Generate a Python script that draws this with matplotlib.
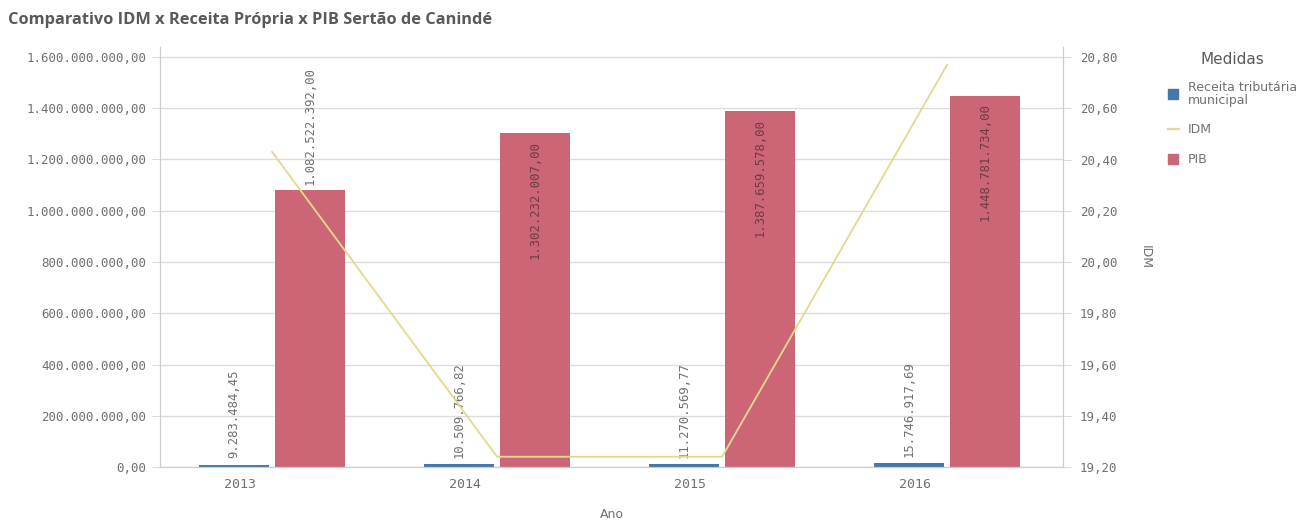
import matplotlib
matplotlib.use("Agg")
import matplotlib.pyplot as plt
from matplotlib.patches import Rectangle
from matplotlib.lines import Line2D
import numpy as np

anos = ["2013", "2014", "2015", "2016"]
receita = [9283484.45, 10509766.82, 11270569.77, 15746917.69]
pib = [1082522392.00, 1302232007.00, 1387659578.00, 1448781734.00]
idm = [20.43, 19.24, 19.24, 20.77]
left_ticks = [0, 200e6, 400e6, 600e6, 800e6, 1000e6, 1200e6, 1400e6, 1600e6]
right_ticks = [19.2, 19.4, 19.6, 19.8, 20.0, 20.2, 20.4, 20.6, 20.8]


def br(v, dec=2):
    s = f"{v:,.{dec}f}"
    return s.replace(",", "X").replace(".", ",").replace("X", ".")


BLUE = "#4477aa"
RED = "#cc6677"
YEL = "#e3d98c"
GRID = "#dcdcdc"
TXT = "#707070"
MONO = "DejaVu Sans Mono"

fig = plt.figure(figsize=(13.16, 5.25), dpi=100)
ax = fig.add_axes([160 / 1316, 58 / 525, (1063 - 160) / 1316, (467 - 47) / 525])
x = np.arange(len(anos))
w = 0.31
off = 0.169

ax.bar(x - off, receita, width=w, color=BLUE, zorder=2)
ax.bar(x + off, pib, width=w, color=RED, zorder=2)

ytop = 1.6e9 * (467 - 47) / (467 - 57)
ax.set_ylim(0, ytop)
ax.set_xlim(-0.498, 3.515)
ax.set_yticks(left_ticks)
ax.set_yticklabels([br(v) for v in left_ticks], fontsize=9, family=MONO, color=TXT)
ax.yaxis.grid(True, color=GRID, linewidth=1, zorder=0)
ax.tick_params(axis="y", length=6, color=GRID, pad=4)
ax.set_xticks(x - 0.142)
ax.set_xticklabels(anos, fontsize=9.5, family=MONO, color=TXT)
ax.tick_params(axis="x", length=0, pad=8)
ax.set_xlabel("Ano", fontsize=9, color=TXT, labelpad=12)
ax.spines["top"].set_visible(False)
for s in ["left", "right", "bottom"]:
    ax.spines[s].set_color("#cccccc")

# labels
for i in range(len(anos)):
    ax.text(x[i] - off, receita[i] + 0.025e9, br(receita[i]), rotation=90,
            ha="center", va="bottom", fontsize=8.8, family=MONO, color=TXT, zorder=5)
    if i == 0:
        ax.text(x[i] + off, pib[i] + 0.018e9, br(pib[i]), rotation=90,
                ha="center", va="bottom", fontsize=8.8, family=MONO, color=TXT, zorder=5)
    else:
        ax.text(x[i] + off, pib[i] - 0.03e9, br(pib[i]), rotation=90,
                ha="center", va="top", fontsize=8.8, family=MONO, color="#6e3a44", zorder=5)

ax2 = ax.twinx()
ax2.set_ylim(19.2, 19.2 + 1.6 * ytop / 1.6e9)
ax2.plot(x, idm, color=YEL, linewidth=1.3, zorder=4)
ax2.set_yticks(right_ticks)
ax2.set_yticklabels([br(v) for v in right_ticks], fontsize=9, family=MONO, color=TXT)
ax2.tick_params(axis="y", length=6, color=GRID, pad=6)
ax2.set_ylabel("IDM", fontsize=9, color=TXT, rotation=270, labelpad=25)
ax2.spines["top"].set_visible(False)
for s in ["left", "right", "bottom"]:
    ax2.spines[s].set_color("#cccccc")

fig.text(8 / 1316, 1 - 20 / 525, "Comparativo IDM x Receita Própria x PIB Sertão de Canindé",
         fontsize=11.8, fontweight="bold", color="#595959", family="Open Sans", va="center")

# legend
fig.text(1232 / 1316, 1 - 60 / 525, "Medidas", fontsize=11, color="#595959",
         ha="center", va="center", family="DejaVu Sans")
fig.add_artist(Rectangle((1168 / 1316, 1 - 99 / 525), 10 / 1316, 10 / 525,
                         transform=fig.transFigure, color=BLUE))
fig.text(1188 / 1316, 1 - 94 / 525, "Receita tributária\nmunicipal", fontsize=9,
         color=TXT, va="center", linespacing=0.95)
fig.add_artist(Line2D([1168 / 1316, 1179 / 1316], [1 - 129 / 525, 1 - 129 / 525],
                      transform=fig.transFigure, color=YEL, linewidth=1.6))
fig.text(1188 / 1316, 1 - 129 / 525, "IDM", fontsize=9, color=TXT, va="center")
fig.add_artist(Rectangle((1168 / 1316, 1 - 164 / 525), 10 / 1316, 10 / 525,
                         transform=fig.transFigure, color=RED))
fig.text(1188 / 1316, 1 - 159 / 525, "PIB", fontsize=9, color=TXT, va="center")

fig.savefig("out.png", dpi=100, facecolor="white")
